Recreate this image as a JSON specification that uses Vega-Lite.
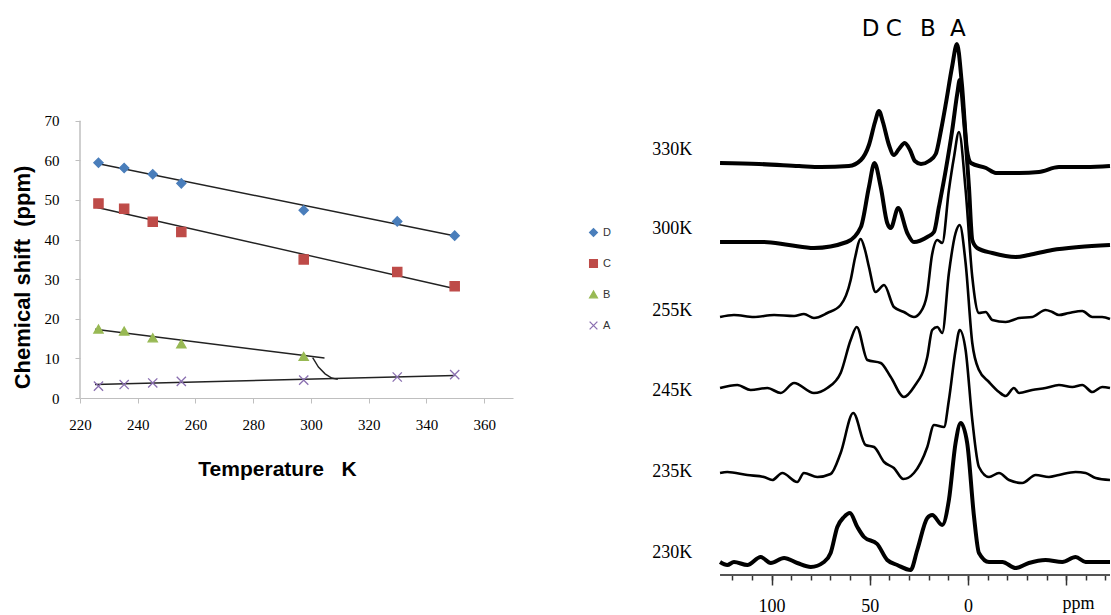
{
"$schema": "https://vega.github.io/schema/vega-lite/v6.json",
"background": "white",
"padding": {"left": 11, "top": 0, "right": 0, "bottom": 0},
"config": {"view": {"stroke": null}, "axis": {"labelFont": "Liberation Serif", "labelColor": "#000"}},
"spacing": 33,
"resolve": {"scale": {"fill": "independent", "stroke": "independent", "shape": "independent"}, "legend": {"fill": "independent", "stroke": "independent", "shape": "independent"}},
"datasets": {
"pts": [
{"T":226.4,"v":59.4,"s":"D"},{"T":235.3,"v":58.1,"s":"D"},{"T":245.2,"v":56.5,"s":"D"},{"T":255.1,"v":54.2,"s":"D"},{"T":297.5,"v":47.4,"s":"D"},{"T":329.9,"v":44.6,"s":"D"},{"T":349.8,"v":41.0,"s":"D"},
{"T":226.4,"v":49.1,"s":"C"},{"T":235.3,"v":47.8,"s":"C"},{"T":245.2,"v":44.5,"s":"C"},{"T":255.1,"v":41.9,"s":"C"},{"T":297.5,"v":35.0,"s":"C"},{"T":329.9,"v":31.8,"s":"C"},{"T":349.8,"v":28.2,"s":"C"},
{"T":226.4,"v":17.4,"s":"B"},{"T":235.3,"v":16.9,"s":"B"},{"T":245.2,"v":15.2,"s":"B"},{"T":255.1,"v":13.7,"s":"B"},{"T":297.5,"v":10.5,"s":"B"},
{"T":226.4,"v":3.0,"s":"A"},{"T":235.3,"v":3.4,"s":"A"},{"T":245.2,"v":3.8,"s":"A"},{"T":255.1,"v":4.2,"s":"A"},{"T":297.5,"v":4.5,"s":"A"},{"T":329.9,"v":5.3,"s":"A"},{"T":349.8,"v":5.9,"s":"A"}
],
"trend": [
{"T":226,"v":59.2,"l":"D"},{"T":350,"v":40.9,"l":"D"},
{"T":226,"v":48.1,"l":"C"},{"T":350,"v":27.6,"l":"C"},
{"T":225.2,"v":17.35,"l":"B"},{"T":304.7,"v":10.1,"l":"B"},
{"T":300.6,"v":10.2,"l":"Bc"},{"T":302.6,"v":7.8,"l":"Bc"},{"T":304.9,"v":6.1,"l":"Bc"},{"T":307.2,"v":5.05,"l":"Bc"},{"T":309.3,"v":4.7,"l":"Bc"},
{"T":225.2,"v":3.4,"l":"A"},{"T":349.8,"v":5.7,"l":"A"}
],
"axisline": [{"p":126.2,"p2":-72.3,"s":0}],
"spec": [
{"t":"330K","p":126.2,"s":412},{"t":"330K","p":106.4,"s":411},{"t":"330K","p":86.0,"s":409},{"t":"330K","p":74.8,"s":408},{"t":"330K","p":60.6,"s":409},{"t":"330K","p":54.5,"s":415},{"t":"330K","p":50.4,"s":430},{"t":"330K","p":47.3,"s":453},{"t":"330K","p":45.3,"s":464},{"t":"330K","p":43.3,"s":453},{"t":"330K","p":40.2,"s":430},{"t":"330K","p":37.7,"s":420},{"t":"330K","p":35.1,"s":426},{"t":"330K","p":32.2,"s":432},{"t":"330K","p":29.5,"s":425},{"t":"330K","p":27.0,"s":414},{"t":"330K","p":23.9,"s":411},{"t":"330K","p":19.8,"s":414},{"t":"330K","p":16.4,"s":421},{"t":"330K","p":13.7,"s":445},{"t":"330K","p":11.2,"s":472},{"t":"330K","p":8.1,"s":508},{"t":"330K","p":5.6,"s":531},{"t":"330K","p":3.1,"s":491},{"t":"330K","p":0.5,"s":425},{"t":"330K","p":-1.5,"s":412},{"t":"330K","p":-9.2,"s":407},{"t":"330K","p":-14.2,"s":402},{"t":"330K","p":-26.0,"s":402},{"t":"330K","p":-36.1,"s":403},{"t":"330K","p":-46.3,"s":408},{"t":"330K","p":-60.1,"s":408},{"t":"330K","p":-72.3,"s":409},
{"t":"300K","p":126.2,"s":333},{"t":"300K","p":103.8,"s":333},{"t":"300K","p":91.1,"s":330},{"t":"300K","p":78.4,"s":327},{"t":"300K","p":61.6,"s":333},{"t":"300K","p":54.5,"s":348},{"t":"300K","p":50.4,"s":388},{"t":"300K","p":47.6,"s":412},{"t":"300K","p":44.4,"s":388},{"t":"300K","p":41.1,"s":352},{"t":"300K","p":39.3,"s":347},{"t":"300K","p":35.5,"s":367},{"t":"300K","p":30.9,"s":342},{"t":"300K","p":27.5,"s":333},{"t":"300K","p":20.7,"s":338},{"t":"300K","p":17.3,"s":343},{"t":"300K","p":14.8,"s":368},{"t":"300K","p":11.3,"s":405},{"t":"300K","p":8.0,"s":445},{"t":"300K","p":5.4,"s":482},{"t":"300K","p":4.2,"s":495},{"t":"300K","p":2.0,"s":455},{"t":"300K","p":-0.5,"s":388},{"t":"300K","p":-2.2,"s":335},{"t":"300K","p":-4.7,"s":327},{"t":"300K","p":-12.4,"s":322},{"t":"300K","p":-24.3,"s":318},{"t":"300K","p":-31.0,"s":320},{"t":"300K","p":-42.9,"s":325},{"t":"300K","p":-56.5,"s":328},{"t":"300K","p":-72.3,"s":330},
{"t":"255K","p":126.2,"s":258},{"t":"255K","p":119.1,"s":260},{"t":"255K","p":108.9,"s":258},{"t":"255K","p":98.7,"s":260},{"t":"255K","p":88.5,"s":259},{"t":"255K","p":83.5,"s":261},{"t":"255K","p":78.4,"s":257},{"t":"255K","p":71.6,"s":262},{"t":"255K","p":64.8,"s":270},{"t":"255K","p":59.7,"s":295},{"t":"255K","p":57.5,"s":317},{"t":"255K","p":54.6,"s":336},{"t":"255K","p":52.4,"s":325},{"t":"255K","p":50.4,"s":308},{"t":"255K","p":47.0,"s":283},{"t":"255K","p":42.7,"s":290},{"t":"255K","p":37.7,"s":268},{"t":"255K","p":32.6,"s":263},{"t":"255K","p":27.5,"s":258},{"t":"255K","p":24.1,"s":263},{"t":"255K","p":20.9,"s":280},{"t":"255K","p":18.3,"s":320},{"t":"255K","p":15.6,"s":335},{"t":"255K","p":13.1,"s":332},{"t":"255K","p":9.7,"s":385},{"t":"255K","p":7.1,"s":418},{"t":"255K","p":4.6,"s":443},{"t":"255K","p":1.2,"s":385},{"t":"255K","p":-2.2,"s":298},{"t":"255K","p":-5.6,"s":262},{"t":"255K","p":-9.0,"s":263},{"t":"255K","p":-12.4,"s":255},{"t":"255K","p":-19.2,"s":253},{"t":"255K","p":-26.0,"s":257},{"t":"255K","p":-32.7,"s":258},{"t":"255K","p":-39.5,"s":265},{"t":"255K","p":-42.9,"s":263},{"t":"255K","p":-46.3,"s":260},{"t":"255K","p":-51.4,"s":262},{"t":"255K","p":-58.2,"s":264},{"t":"255K","p":-63.3,"s":258},{"t":"255K","p":-68.3,"s":258},{"t":"255K","p":-72.3,"s":256},
{"t":"245K","p":126.2,"s":187},{"t":"245K","p":117.4,"s":190},{"t":"245K","p":110.6,"s":185},{"t":"245K","p":102.1,"s":187},{"t":"245K","p":95.3,"s":182},{"t":"245K","p":88.5,"s":192},{"t":"245K","p":78.4,"s":182},{"t":"245K","p":71.6,"s":187},{"t":"245K","p":64.8,"s":202},{"t":"245K","p":59.7,"s":235},{"t":"245K","p":56.6,"s":248},{"t":"245K","p":51.2,"s":215},{"t":"245K","p":44.4,"s":212},{"t":"245K","p":39.3,"s":198},{"t":"245K","p":32.6,"s":178},{"t":"245K","p":27.5,"s":188},{"t":"245K","p":20.7,"s":218},{"t":"245K","p":18.2,"s":245},{"t":"245K","p":15.6,"s":248},{"t":"245K","p":13.1,"s":242},{"t":"245K","p":9.7,"s":302},{"t":"245K","p":6.3,"s":342},{"t":"245K","p":4.2,"s":350},{"t":"245K","p":1.2,"s":312},{"t":"245K","p":-2.2,"s":232},{"t":"245K","p":-5.6,"s":205},{"t":"245K","p":-10.7,"s":193},{"t":"245K","p":-15.8,"s":183},{"t":"245K","p":-19.2,"s":179},{"t":"245K","p":-23.4,"s":187},{"t":"245K","p":-26.0,"s":182},{"t":"245K","p":-32.7,"s":185},{"t":"245K","p":-39.5,"s":187},{"t":"245K","p":-46.3,"s":190},{"t":"245K","p":-53.1,"s":188},{"t":"245K","p":-58.2,"s":190},{"t":"245K","p":-63.3,"s":183},{"t":"245K","p":-68.3,"s":188},{"t":"245K","p":-72.3,"s":187},
{"t":"235K","p":126.2,"s":102},{"t":"235K","p":122.5,"s":103},{"t":"235K","p":112.3,"s":100},{"t":"235K","p":103.8,"s":98},{"t":"235K","p":99.6,"s":95},{"t":"235K","p":94.5,"s":102},{"t":"235K","p":86.9,"s":93},{"t":"235K","p":83.5,"s":102},{"t":"235K","p":76.7,"s":98},{"t":"235K","p":69.9,"s":101},{"t":"235K","p":64.8,"s":122},{"t":"235K","p":58.4,"s":162},{"t":"235K","p":52.1,"s":130},{"t":"235K","p":47.8,"s":128},{"t":"235K","p":42.7,"s":113},{"t":"235K","p":37.7,"s":107},{"t":"235K","p":32.9,"s":96},{"t":"235K","p":27.5,"s":102},{"t":"235K","p":20.7,"s":128},{"t":"235K","p":17.3,"s":150},{"t":"235K","p":12.2,"s":148},{"t":"235K","p":9.7,"s":175},{"t":"235K","p":6.3,"s":225},{"t":"235K","p":4.2,"s":245},{"t":"235K","p":1.2,"s":225},{"t":"235K","p":-2.2,"s":155},{"t":"235K","p":-5.6,"s":108},{"t":"235K","p":-10.7,"s":98},{"t":"235K","p":-15.8,"s":102},{"t":"235K","p":-20.9,"s":95},{"t":"235K","p":-27.6,"s":92},{"t":"235K","p":-34.5,"s":100},{"t":"235K","p":-41.2,"s":98},{"t":"235K","p":-46.3,"s":100},{"t":"235K","p":-54.8,"s":103},{"t":"235K","p":-59.9,"s":102},{"t":"235K","p":-65.0,"s":97},{"t":"235K","p":-72.3,"s":95},
{"t":"230K","p":126.2,"s":13},{"t":"230K","p":122.5,"s":10},{"t":"230K","p":119.1,"s":13},{"t":"230K","p":112.3,"s":10},{"t":"230K","p":105.5,"s":18},{"t":"230K","p":100.4,"s":12},{"t":"230K","p":93.6,"s":17},{"t":"230K","p":86.9,"s":12},{"t":"230K","p":80.0,"s":8},{"t":"230K","p":73.3,"s":13},{"t":"230K","p":69.9,"s":22},{"t":"230K","p":66.5,"s":48},{"t":"230K","p":63.1,"s":58},{"t":"230K","p":60.1,"s":62},{"t":"230K","p":56.3,"s":48},{"t":"230K","p":52.9,"s":38},{"t":"230K","p":46.2,"s":31},{"t":"230K","p":41.1,"s":15},{"t":"230K","p":36.0,"s":10},{"t":"230K","p":29.2,"s":5},{"t":"230K","p":25.8,"s":25},{"t":"230K","p":20.7,"s":57},{"t":"230K","p":18.2,"s":60},{"t":"230K","p":13.1,"s":50},{"t":"230K","p":9.7,"s":75},{"t":"230K","p":6.3,"s":132},{"t":"230K","p":3.7,"s":152},{"t":"230K","p":0.4,"s":132},{"t":"230K","p":-3.1,"s":58},{"t":"230K","p":-5.6,"s":22},{"t":"230K","p":-10.7,"s":13},{"t":"230K","p":-17.5,"s":13},{"t":"230K","p":-24.3,"s":7},{"t":"230K","p":-31.0,"s":12},{"t":"230K","p":-39.5,"s":15},{"t":"230K","p":-48.0,"s":13},{"t":"230K","p":-54.8,"s":18},{"t":"230K","p":-59.9,"s":13},{"t":"230K","p":-72.3,"s":13}
],
"tlab": [
{"lab":"330K","p":160.7,"s":425},{"lab":"300K","p":160.7,"s":346},{"lab":"255K","p":160.7,"s":264},{"lab":"245K","p":160.7,"s":184},{"lab":"235K","p":160.7,"s":103},{"lab":"230K","p":160.7,"s":22}
],
"plab": [
{"lab":"D","p":49.6,"s":546},{"lab":"C","p":37.8,"s":546},{"lab":"B","p":20.4,"s":546},{"lab":"A","p":5.2,"s":546}
]
},
"hconcat": [
{
"width": 433, "height": 398,
"layer": [
{"data": {"name": "trend"},
 "transform": [{"filter": "datum.l == 'D'"}],
 "mark": {"type": "rule", "color": "#bfbfbf", "strokeWidth": 1},
 "encoding": {
  "x": {"datum": 220, "type": "quantitative", "scale": {"domain": [220, 370], "nice": false, "zero": false},
   "axis": {"orient": "bottom", "values": [220,240,260,280,300,320,340,360], "grid": false, "domainColor": "#bfbfbf", "tickColor": "#bfbfbf", "tickSize": 5, "labelFont": "Liberation Serif", "labelFontSize": 15, "labelColor": "#000", "labelPadding": 14, "labelFlush": false, "title": "Temperature\u00a0\u00a0\u00a0K", "titleFont": "Liberation Sans", "titleFontSize": 21, "titleFontWeight": "bold", "titleColor": "#000", "titleX": 197, "titleY": 77, "titleBaseline": "alphabetic"}},
  "y": {"datum": 0, "type": "quantitative", "scale": {"domain": [0, 100.5], "nice": false, "zero": false},
   "axis": {"orient": "left", "values": [0,10,20,30,40,50,60,70], "grid": false, "domain": false, "tickColor": "#bfbfbf", "tickSize": 5, "labelFont": "Liberation Serif", "labelFontSize": 15, "labelColor": "#000", "labelPadding": 16, "title": "Chemical shift\u00a0\u00a0(ppm)", "titleFont": "Liberation Sans", "titleFontSize": 22, "titleFontWeight": "bold", "titleColor": "#000", "titleY": 277, "titlePadding": 10}},
  "y2": {"datum": 70}
 }},
{"data": {"name": "trend"},
 "mark": {"type": "line", "color": "#222", "strokeWidth": 1.4},
 "encoding": {
  "x": {"field": "T", "type": "quantitative", "scale": {"domain": [220, 370], "nice": false, "zero": false},
   "axis": {"orient": "bottom", "values": [220,240,260,280,300,320,340,360], "grid": false, "domainColor": "#bfbfbf", "tickColor": "#bfbfbf", "tickSize": 5, "labelFont": "Liberation Serif", "labelFontSize": 15, "labelColor": "#000", "labelPadding": 14, "labelFlush": false, "title": "Temperature\u00a0\u00a0\u00a0K", "titleFont": "Liberation Sans", "titleFontSize": 21, "titleFontWeight": "bold", "titleColor": "#000", "titleX": 197, "titleY": 77, "titleBaseline": "alphabetic"}},
  "y": {"field": "v", "type": "quantitative", "scale": {"domain": [0, 100.5], "nice": false, "zero": false},
   "axis": {"orient": "left", "values": [0,10,20,30,40,50,60,70], "grid": false, "domain": false, "tickColor": "#bfbfbf", "tickSize": 5, "labelFont": "Liberation Serif", "labelFontSize": 15, "labelColor": "#000", "labelPadding": 16, "title": "Chemical shift\u00a0\u00a0(ppm)", "titleFont": "Liberation Sans", "titleFontSize": 22, "titleFontWeight": "bold", "titleColor": "#000", "titleY": 277, "titlePadding": 10}},
  "detail": {"field": "l"}
 }},
{"data": {"name": "pts"},
 "mark": {"type": "point", "filled": true, "size": 85, "strokeWidth": 1.3, "opacity": 1},
 "encoding": {
  "x": {"field": "T", "type": "quantitative", "scale": {"domain": [220, 370], "nice": false, "zero": false},
   "axis": {"orient": "bottom", "values": [220,240,260,280,300,320,340,360], "grid": false, "domainColor": "#bfbfbf", "tickColor": "#bfbfbf", "tickSize": 5, "labelFont": "Liberation Serif", "labelFontSize": 15, "labelColor": "#000", "labelPadding": 14, "labelFlush": false, "title": "Temperature\u00a0\u00a0\u00a0K", "titleFont": "Liberation Sans", "titleFontSize": 21, "titleFontWeight": "bold", "titleColor": "#000", "titleX": 197, "titleY": 77, "titleBaseline": "alphabetic"}},
  "y": {"field": "v", "type": "quantitative", "scale": {"domain": [0, 100.5], "nice": false, "zero": false},
   "axis": {"orient": "left", "values": [0,10,20,30,40,50,60,70], "grid": false, "domain": false, "tickColor": "#bfbfbf", "tickSize": 5, "labelFont": "Liberation Serif", "labelFontSize": 15, "labelColor": "#000", "labelPadding": 16, "title": "Chemical shift\u00a0\u00a0(ppm)", "titleFont": "Liberation Sans", "titleFontSize": 22, "titleFontWeight": "bold", "titleColor": "#000", "titleY": 277, "titlePadding": 10}},
  "fill": {"field": "s", "type": "nominal", "scale": {"domain": ["D","C","B","A"], "range": ["#4a7ebb","#be4b48","#98b954","#8a6fb0"]},
   "legend": {"title": null, "orient": "none", "legendX": 508, "legendY": 227, "padding": 0, "symbolSize": 60, "rowPadding": 18, "labelFont": "Liberation Sans", "labelFontSize": 11, "labelColor": "#333", "symbolStrokeWidth": 1.3}},
  "stroke": {"field": "s", "type": "nominal", "scale": {"domain": ["D","C","B","A"], "range": ["#4a7ebb","#be4b48","#98b954","#8a6fb0"]},
   "legend": {"title": null, "orient": "none", "legendX": 508, "legendY": 227, "padding": 0, "symbolSize": 60, "rowPadding": 18, "labelFont": "Liberation Sans", "labelFontSize": 11, "labelColor": "#333", "symbolStrokeWidth": 1.3}},
  "shape": {"field": "s", "type": "nominal", "scale": {"domain": ["D","C","B","A"], "range": ["diamond","square","triangle-up","M-1,-1L1,1M-1,1L1,-1"]},
   "legend": {"title": null, "orient": "none", "legendX": 508, "legendY": 227, "padding": 0, "symbolSize": 60, "rowPadding": 18, "labelFont": "Liberation Sans", "labelFontSize": 11, "labelColor": "#333", "symbolStrokeWidth": 1.3}}
 }}
]
},
{
"width": 466, "height": 575,
"resolve": {"axis": {"x": "independent"}},
"layer": [
{"data": {"name": "axisline"},
 "mark": {"type": "rule", "color": "#555", "strokeWidth": 2},
 "encoding": {
  "x": {"field": "p", "type": "quantitative", "scale": {"domain": [-72.3, 164.9], "reverse": true, "nice": false, "zero": false},
   "axis": {"orient": "bottom", "values": [-70,-60,-50,-40,-30,-20,-10,0,10,20,30,40,50,60,70,80,90,100,110,120], "labels": false, "domain": false, "grid": false, "tickSize": 5, "tickWidth": 1.5, "tickColor": "#333", "title": null}},
  "x2": {"field": "p2"},
  "y": {"field": "s", "type": "quantitative", "scale": {"domain": [0, 575], "nice": false, "zero": false}, "axis": null}
 }},
{"data": {"name": "spec"},
 "transform": [{"filter": {"field": "t", "oneOf": ["330K","300K","230K"]}}],
 "mark": {"type": "line", "color": "#000", "strokeWidth": 4, "strokeJoin": "round", "interpolate": "monotone"},
 "encoding": {
  "x": {"field": "p", "type": "quantitative", "scale": {"domain": [-72.3, 164.9], "reverse": true, "nice": false, "zero": false}, "axis": null},
  "y": {"field": "s", "type": "quantitative", "scale": {"domain": [0, 575], "nice": false, "zero": false}, "axis": null},
  "detail": {"field": "t"}
 }},
{"data": {"name": "spec"},
 "transform": [{"filter": {"field": "t", "oneOf": ["255K","245K","235K"]}}],
 "mark": {"type": "line", "color": "#000", "strokeWidth": 2.6, "strokeJoin": "round", "interpolate": "monotone"},
 "encoding": {
  "x": {"field": "p", "type": "quantitative", "scale": {"domain": [-72.3, 164.9], "reverse": true, "nice": false, "zero": false},
   "axis": {"orient": "bottom", "values": [100, 50, 0, -50], "labelExpr": "datum.value == -50 ? '' : datum.label", "domain": false, "grid": false, "tickSize": 10, "tickWidth": 1.5, "tickColor": "#333", "labelFont": "Liberation Serif", "labelFontSize": 18, "labelColor": "#000", "labelPadding": 12, "labelFlush": false, "title": "ppm", "titleFont": "Liberation Serif", "titleFontSize": 18, "titleFontWeight": "normal", "titleColor": "#000", "titleX": 434, "titleY": 33, "titleBaseline": "alphabetic"}},
  "y": {"field": "s", "type": "quantitative", "scale": {"domain": [0, 575], "nice": false, "zero": false}, "axis": null},
  "detail": {"field": "t"}
 }},
{"data": {"name": "tlab"},
 "mark": {"type": "text", "align": "left", "baseline": "middle", "font": "Liberation Serif", "fontSize": 18, "color": "#000"},
 "encoding": {
  "x": {"field": "p", "type": "quantitative", "axis": null},
  "y": {"field": "s", "type": "quantitative", "axis": null},
  "text": {"field": "lab"}
 }},
{"data": {"name": "plab"},
 "mark": {"type": "text", "align": "center", "baseline": "middle", "font": "DejaVu Sans", "fontSize": 23, "color": "#000"},
 "encoding": {
  "x": {"field": "p", "type": "quantitative", "axis": null},
  "y": {"field": "s", "type": "quantitative", "axis": null},
  "text": {"field": "lab"}
 }}
]
}
]
}
